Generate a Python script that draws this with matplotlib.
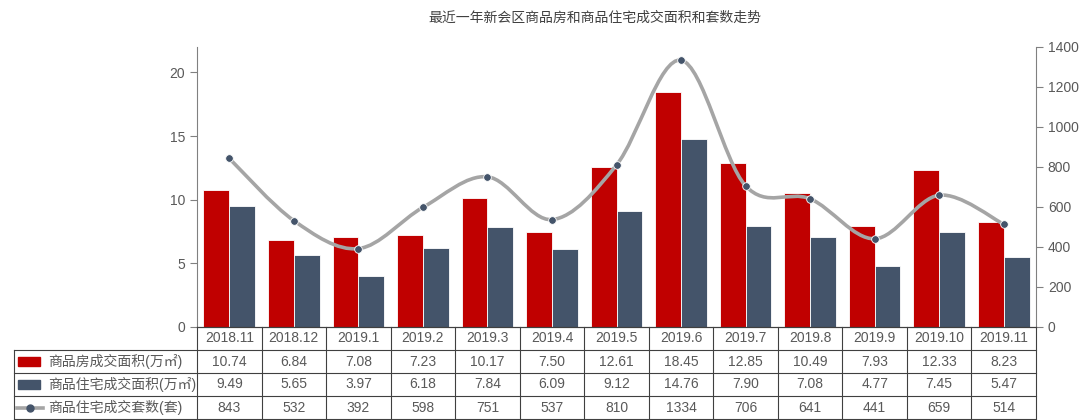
import numpy as np
import matplotlib
matplotlib.use("Agg")
import matplotlib.pyplot as plt
from matplotlib.path import Path
from matplotlib.patches import PathPatch, Rectangle
from matplotlib.lines import Line2D

plt.rcParams["font.family"] = ["Liberation Sans", "Noto Sans CJK SC", "DejaVu Sans"]

months = ["2018.11", "2018.12", "2019.1", "2019.2", "2019.3", "2019.4", "2019.5",
          "2019.6", "2019.7", "2019.8", "2019.9", "2019.10", "2019.11"]
area_all = [10.74, 6.84, 7.08, 7.23, 10.17, 7.50, 12.61, 18.45, 12.85, 10.49, 7.93, 12.33, 8.23]
area_res = [9.49, 5.65, 3.97, 6.18, 7.84, 6.09, 9.12, 14.76, 7.90, 7.08, 4.77, 7.45, 5.47]
units_res = [843, 532, 392, 598, 751, 537, 810, 1334, 706, 641, 441, 659, 514]

names = ["商品房成交面积(万㎡)", "商品住宅成交面积(万㎡)", "商品住宅成交套数(套)"]
title = "最近一年新会区商品房和商品住宅成交面积和套数走势"

RED = "#C00000"
BLUE = "#44546A"
GREY = "#A5A5A5"
TXT = "#595959"
GRID = "#404040"

W, H = 1080, 420
fig = plt.figure(figsize=(W / 100, H / 100), dpi=100)


def fx(x):
    return x / W


def fy(y):
    return 1 - y / H


ax_l, ax_r, ax_t, ax_b = 197, 1036, 47, 327
ax = fig.add_axes([fx(ax_l), fy(ax_b), (ax_r - ax_l) / W, (ax_b - ax_t) / H])
ax2 = ax.twinx()

n = len(months)
x = np.arange(n)
bw = 0.4
ax.bar(x - bw / 2, area_all, bw, color=RED, edgecolor="white", linewidth=0.6, zorder=2)
ax.bar(x + bw / 2, area_res, bw, color=BLUE, edgecolor="white", linewidth=0.6, zorder=2)
ax.set_xlim(-0.5, n - 0.5)
ax.set_ylim(0, 22)
ax.set_yticks([0, 5, 10, 15, 20])
ax2.set_ylim(0, 1400)
ax2.set_yticks(range(0, 1401, 200))

# smooth line through the points (bezier, catmull-rom style control points)
sx, sy = (ax_r - ax_l) / n, (ax_b - ax_t) / 1400
pts = np.column_stack([x * sx, np.array(units_res) * sy])
verts = [pts[0]]
codes = [Path.MOVETO]
for i in range(n - 1):
    p0 = pts[max(i - 1, 0)]
    p1 = pts[i]
    p2 = pts[i + 1]
    p3 = pts[min(i + 2, n - 1)]
    c1 = p1 + (p2 - p0) / 6
    c2 = p2 - (p3 - p1) / 6
    verts += [c1, c2, p2]
    codes += [Path.CURVE4] * 3
verts = np.array(verts) / np.array([sx, sy])
ax2.add_patch(PathPatch(Path(verts, codes), facecolor="none", edgecolor=GREY,
                        linewidth=2.6, capstyle="round", zorder=3))
ax2.plot(x, units_res, "o", color=BLUE, markersize=5.5, markeredgecolor="white",
         markeredgewidth=0.6, zorder=4)

for a in (ax, ax2):
    for s in ("top",):
        a.spines[s].set_visible(False)
    a.spines["left"].set_color("#808080")
    a.spines["right"].set_color("#808080")
    a.spines["bottom"].set_color(GRID)
    a.tick_params(axis="y", colors="#808080", labelcolor=TXT, labelsize=10, length=5)
    a.tick_params(axis="x", bottom=False, labelbottom=False)
ax.spines["right"].set_visible(False)
ax2.spines["left"].set_visible(False)

fig.text(fx(595), fy(18), title, ha="center", va="center", fontsize=10, color="#404040")

# data table
cw = (ax_r - ax_l) / n
rows = [ax_b, 350, 373, 396, 419]
for yy in rows[1:]:
    fig.add_artist(Line2D([fx(14), fx(ax_r)], [fy(yy), fy(yy)], color=GRID, lw=0.8))
for i in range(n + 1):
    xx = ax_l + i * cw
    fig.add_artist(Line2D([fx(xx), fx(xx)], [fy(ax_b), fy(419)], color=GRID, lw=0.8))
fig.add_artist(Line2D([fx(14), fx(14)], [fy(350), fy(419)], color=GRID, lw=0.8))

values = [area_all, area_res, units_res]
fmts = ["{:.2f}", "{:.2f}", "{:d}"]
for i, m in enumerate(months):
    cx = ax_l + (i + 0.5) * cw
    fig.text(fx(cx), fy((rows[0] + rows[1]) / 2), m, ha="center", va="center",
             fontsize=10, color=TXT)
    for r in range(3):
        cy = (rows[r + 1] + rows[r + 2]) / 2
        fig.text(fx(cx), fy(cy), fmts[r].format(values[r][i]), ha="center",
                 va="center", fontsize=10, color=TXT)

for r in range(3):
    cy = (rows[r + 1] + rows[r + 2]) / 2
    fig.text(fx(48), fy(cy), names[r], ha="left", va="center", fontsize=10, color=TXT)

fig.add_artist(Rectangle((fx(18), fy(366)), fx(22), 9 / H, transform=fig.transFigure,
                         color=RED))
fig.add_artist(Rectangle((fx(18), fy(389)), fx(22), 9 / H, transform=fig.transFigure,
                         color=BLUE))
cy = (rows[3] + rows[4]) / 2
fig.add_artist(Line2D([fx(17), fx(43)], [fy(cy), fy(cy)], color=GREY, lw=2.6))
fig.add_artist(Line2D([fx(30)], [fy(cy)], marker="o", color=BLUE, markersize=5))

fig.savefig("out.png", dpi=100)
